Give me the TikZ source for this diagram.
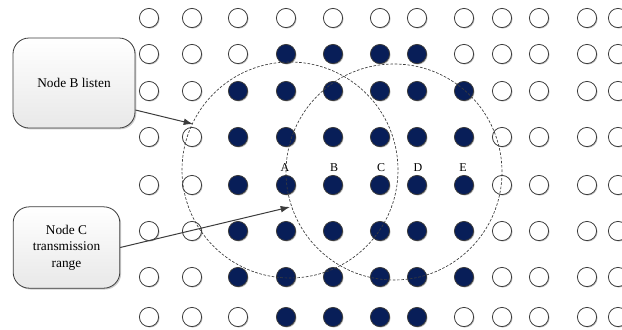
\documentclass[tikz,border=0pt]{standalone}
\usepackage{fontspec}
\setmainfont{Liberation Serif}
\usetikzlibrary{arrows.meta,shadows,calc}
\definecolor{navy}{RGB}{8,30,88}
\definecolor{edge}{RGB}{60,60,60}
\begin{document}
\begin{tikzpicture}[x=0.75pt,y=-0.75pt,
  dot/.style={circle,draw=edge,line width=0.6pt,minimum size=14.4pt,inner sep=0pt,
    drop shadow={shadow xshift=0.7pt,shadow yshift=-0.7pt,opacity=0.25,fill=black}},
  box/.style={draw=edge,line width=0.6pt,rounded corners=12pt,top color=white,bottom color=gray!18,
    align=center,font=\fontsize{10}{12.4}\selectfont,inner sep=2pt,
    drop shadow={shadow xshift=1pt,shadow yshift=-1pt,opacity=0.2,fill=black}},
  lab/.style={font=\fontsize{9}{10}\selectfont,inner sep=0pt},
  arr/.style={draw=edge,line width=0.75pt,-{Latex[length=7pt,width=5pt]}},
  rangecirc/.style={draw=edge,line width=0.5pt,dash pattern=on 2pt off 1.2pt}
]
\path[clip] (0,0) rectangle (622,329);
% grid of nodes
\foreach \y/\lo/\hi [count=\r] in {18/13/0,54/4/7,91/3/8,137/3/8,185/3/8,231/3/8,277/3/8,317/4/7}{
  \foreach \x [count=\c] in {149,192,238,286,333,380,417,464,502,539,587,618}{
    \ifnum\c<\lo \def\fc{white}\else\ifnum\c>\hi \def\fc{white}\else\def\fc{navy}\fi\fi
    \node[dot,fill=\fc] (d-\r-\c) at (\x,\y) {};
  }
}
% labels
\node[lab] (lA) at (285,168) {A};
\node[lab] (lB) at (334,168) {B};
\node[lab] (lC) at (381,168) {C};
\node[lab] (lD) at (418,168) {D};
\node[lab] (lE) at (463,168) {E};
% ranges
\draw[rangecirc] (290,170) circle[radius=81pt];
\draw[rangecirc] (394,172) circle[radius=81pt];
% boxes
\node[box,minimum width=91.5pt,minimum height=67.5pt] (boxB) at (74,83) {Node B listen};
\node[box,minimum width=80pt,minimum height=61pt] (boxC) at (66.5,247.5) {Node C\\transmission\\range};
% arrows
\coordinate (tB) at (193,124);
\coordinate (tC) at (290,207);
\draw[arr] ($(boxB.east)+(0,27)$) -- (tB);
\draw[arr] (boxC.east) -- (tC);
\end{tikzpicture}
\end{document}
